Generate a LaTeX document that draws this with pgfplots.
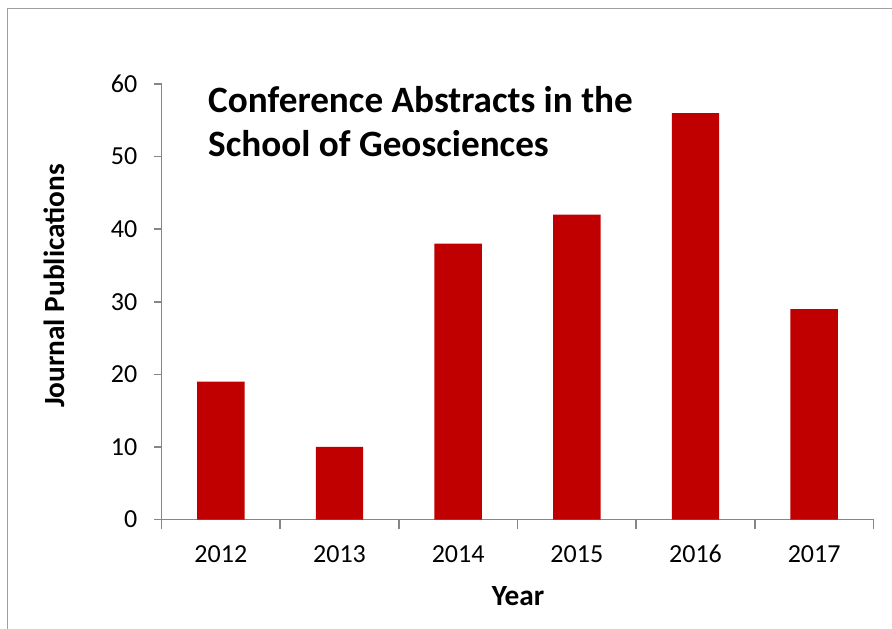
\documentclass[border=0pt]{standalone}
\usepackage{pgfplots}
\pgfplotsset{compat=1.18}
\usepackage{fontspec}
\setmainfont{Carlito}
\definecolor{barred}{RGB}{192,0,0}
\definecolor{axisgray}{RGB}{134,134,134}
\definecolor{framegray}{RGB}{160,160,160}
\begin{document}
\begin{tikzpicture}[x=1pt,y=1pt]
\useasboundingbox (0,0) rectangle (892,-629);
\draw[framegray, line width=1.5pt] (7.5,-640) -- (7.5,-8.3) -- (900,-8.3);
\begin{axis}[
    at={(161.5pt,-519.5pt)}, anchor=south west,
    scale only axis, width=712pt, height=435.5pt,
    ybar, bar width=0.4,
    xmin=-0.5, xmax=5.5, ymin=0, ymax=60,
    axis lines=left,
    axis line style={-, axisgray, line width=1.5pt},
    tick style={axisgray, line width=1.5pt},
    tick align=outside,
    ytick={0,10,...,60},
    xtick={0,...,5},
    xticklabels={2012,2013,2014,2015,2016,2017},
    major x tick style={draw=none},
    minor xtick={-0.5,0.5,...,5.5},
    major tick length=7pt, minor tick length=9pt,
    /pgf/number format/assume math mode=true,
    ticklabel style={font=\fontsize{26}{31}\selectfont, text=black},
    yticklabel style={anchor=east, inner sep=0pt, xshift=-17pt},
    xticklabel style={anchor=base, inner sep=0pt, yshift=-35.5pt},
]
\addplot[fill=barred, draw=none] coordinates {
    (0,19) (1,10) (2,38) (3,42) (4,56) (5,29)
};
\end{axis}
\node[anchor=base west, font=\fontsize{37.2}{44}\selectfont\bfseries, inner sep=0pt] at (208,-112) {Conference Abstracts in the};
\node[anchor=base west, font=\fontsize{37.2}{44}\selectfont\bfseries, inner sep=0pt] at (208,-156) {School of Geosciences};
\node[anchor=base, font=\fontsize{29.3}{35}\selectfont\bfseries, inner sep=0pt] at (518,-605) {Year};
\node[anchor=base, rotate=90, font=\fontsize{29.3}{35}\selectfont\bfseries, inner sep=0pt] at (64,-286) {Journal Publications};
\end{tikzpicture}
\end{document}
